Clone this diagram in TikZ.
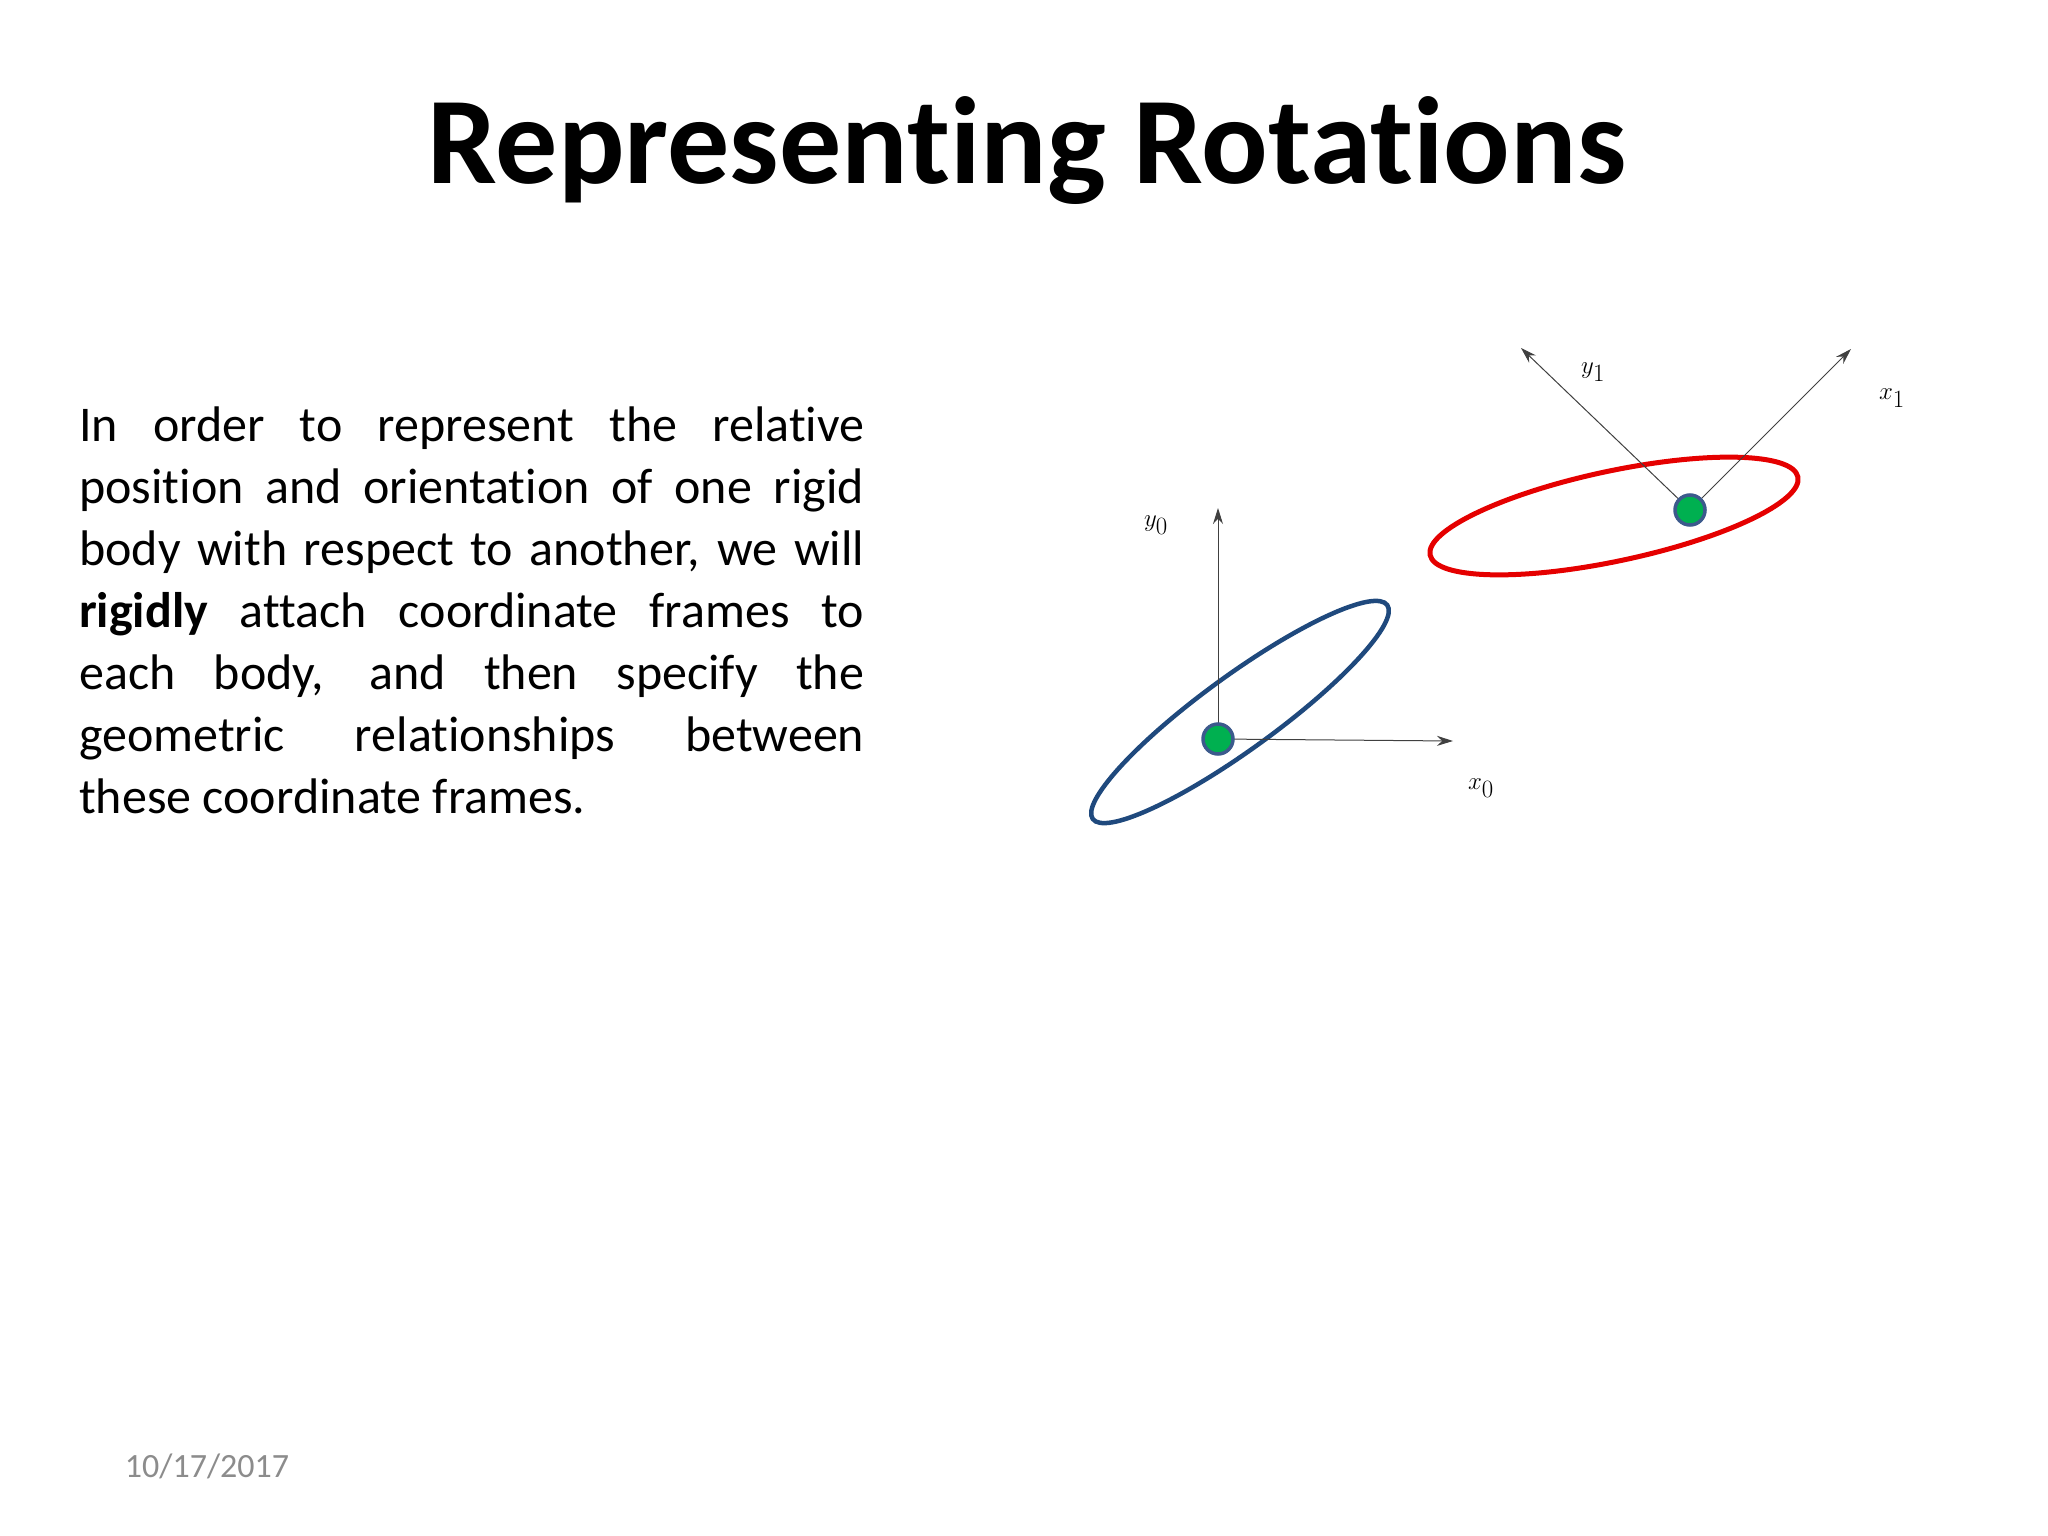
\documentclass[tikz,border=0pt]{standalone}
\usepackage{fontspec}
\setmainfont{Carlito}[Ligatures=NoCommon]
\usepackage{amsmath}
\usetikzlibrary{arrows.meta}
\definecolor{bodyblue}{RGB}{31,73,125}
\definecolor{dotgreen}{RGB}{0,176,80}
\definecolor{dotrim}{RGB}{60,90,140}
\begin{document}
\begin{tikzpicture}[x={(1pt,0)},y={(0,-1pt)},
  axis/.style={draw=black!75,line width=1pt,-{Stealth[length=16pt,width=10pt]}},
  dotnode/.style={circle,fill=dotgreen,draw=dotrim,line width=3.5pt,minimum size=30pt,inner sep=0pt},
  lab/.style={font=\fontsize{44}{50}\selectfont,inner sep=0pt},
  body/.style={font=\fontsize{50}{62}\selectfont,inner sep=0pt,anchor=base west}]
\useasboundingbox (0,0) rectangle (2048,1536);
\node[font=\fontsize{124}{130}\selectfont\bfseries,inner sep=0pt] (title) at (1027,151) {Representing Rotations};
\node[body] (l1) at (79,441) {\makebox[785pt][s]{In order to represent the relative}};
\node[body] (l2) at (79,503) {\makebox[785pt][s]{position and orientation of one rigid}};
\node[body] (l3) at (79,565) {\makebox[785pt][s]{body with respect to another, we will}};
\node[body] (l4) at (79,627) {\makebox[785pt][s]{\textbf{rigidly} attach coordinate frames to}};
\node[body] (l5) at (79,689) {\makebox[785pt][s]{each body, and then specify the}};
\node[body] (l6) at (79,751) {\makebox[785pt][s]{geometric relationships between}};
\node[body] (l7) at (79,813) {these coordinate frames.};
\node[font=\fontsize{34}{38}\selectfont,text=black!45,inner sep=0pt] (date) at (207,1466) {10/17/2017};
% blue body
\draw[draw=bodyblue,line width=4.5pt,rotate around={36:(1240,712)}] (1240,712) ellipse [x radius=182,y radius=37];
\coordinate (o0) at (1218,739);
\coordinate (x0) at (1453,741);
\coordinate (y0) at (1218,508);
\draw[axis] (o0) -- (x0);
\draw[axis] (o0) -- (y0);
\node[dotnode] (d0) at (o0) {};
\node[lab] (ly0) at (1156,525) {$y_0$};
\node[lab] (lx0) at (1481,788) {$x_0$};
% red body
\draw[draw=red!90!black,line width=5pt,rotate around={12:(1614,516)}] (1614,516) ellipse [x radius=188,y radius=45];
\coordinate (o1) at (1690,510);
\coordinate (x1) at (1851,349);
\coordinate (y1) at (1521,348);
\draw[axis] (o1) -- (x1);
\draw[axis] (o1) -- (y1);
\node[dotnode] (d1) at (o1) {};
\node[lab] (ly1) at (1593,372) {$y_1$};
\node[lab] (lx1) at (1892,398) {$x_1$};
\end{tikzpicture}
\end{document}
